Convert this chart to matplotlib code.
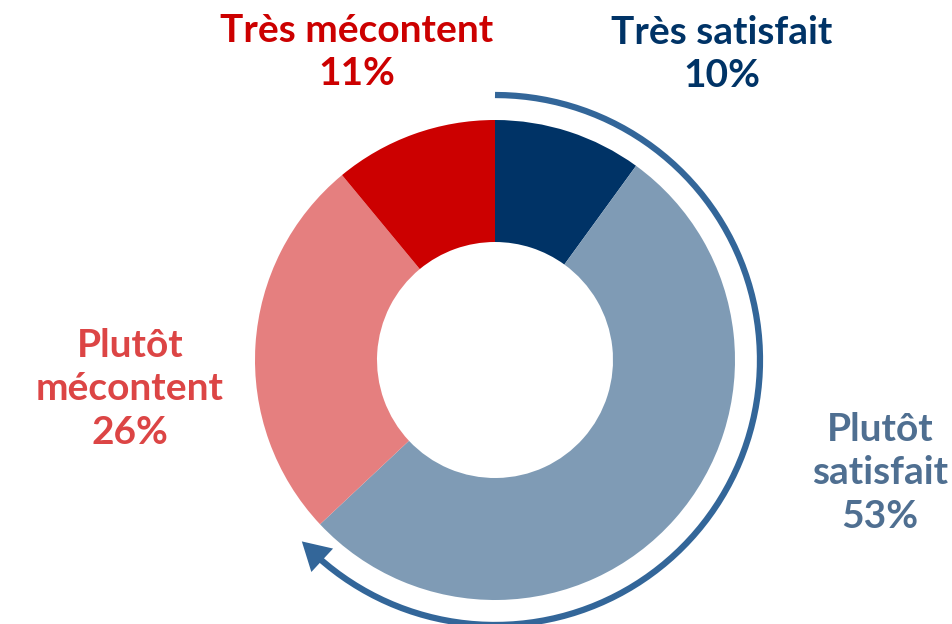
import matplotlib
matplotlib.use("Agg")
import matplotlib.pyplot as plt
import numpy as np

# data
categories = ["Très satisfait", "Plutôt satisfait", "Plutôt mécontent", "Très mécontent"]
values = [10, 53, 26, 11]
colors = ["#003366", "#7F9BB5", "#E57F7F", "#CC0000"]
label_colors = ["#003366", "#4F6F91", "#DC4545", "#CC0000"]
label_text = ["Très satisfait\n10%", "Plutôt\nsatisfait\n53%", "Plutôt\nmécontent\n26%", "Très mécontent\n11%"]

W, H = 952, 624
fig = plt.figure(figsize=(W / 100, H / 100), dpi=100)
ax = fig.add_axes([0, 0, 1, 1])

cx, cy = 495, H - 360
R = 240
ax.pie(values, colors=colors, startangle=90, counterclock=False,
       radius=R, center=(cx, cy), frame=True,
       wedgeprops=dict(width=R - 118, edgecolor="none"))
ax.set_xlim(0, W)
ax.set_ylim(0, H)
ax.set_aspect("equal")
ax.axis("off")

# arc showing satisfied share
share = (values[0] + values[1]) / sum(values)
ra = 265
th = np.radians(np.linspace(90, 90 - share * 360 + 5, 200))
ax.plot(cx + ra * np.cos(th), cy + ra * np.sin(th), color="#336699", lw=4.5, solid_capstyle="butt")
t_end = np.radians(90 - share * 360)
t_pre = np.radians(90 - share * 360 + 8)
ax.annotate("", xy=(cx + ra * np.cos(t_end), cy + ra * np.sin(t_end)),
            xytext=(cx + ra * np.cos(t_pre), cy + ra * np.sin(t_pre)),
            arrowprops=dict(arrowstyle="-|>,head_length=2.0,head_width=1.15",
                            color="#336699", lw=0, shrinkA=0, shrinkB=0))

font = dict(family="Lato", weight="bold", fontsize=28, ha="center", va="center",
            linespacing=1.3)
pos = [(722, H - 54), (880, H - 473), (130, H - 389), (357, H - 52)]
for (x, y), t, c in zip(pos, label_text, label_colors):
    ax.text(x, y, t, color=c, **font)

fig.savefig("out.png", dpi=100)
